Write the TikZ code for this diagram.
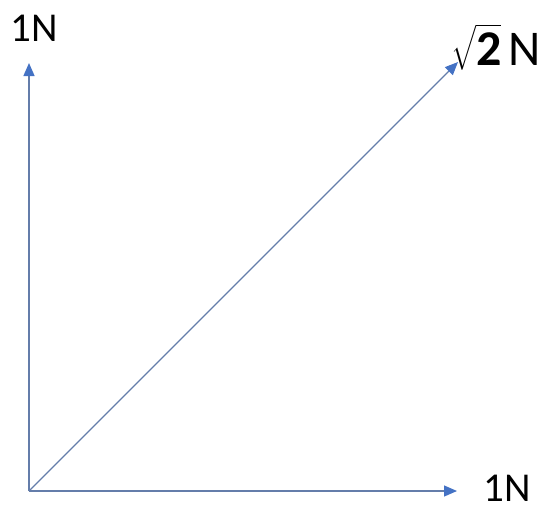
\documentclass[tikz,border=0pt]{standalone}
\usepackage{exscale}
\usepackage{fontspec}
\setmainfont{Carlito}
\usetikzlibrary{arrows.meta}
\definecolor{vecblue}{RGB}{68,114,196}
\definecolor{vecline}{RGB}{100,125,170}
\tikzset{
  vec/.style={draw=vecline, line width=1.3pt, -{Triangle[length=13pt,width=11pt,color=vecblue]}},
  lbl/.style={font=\fontsize{41}{44}\selectfont, inner sep=0pt}
}
\begin{document}
\begin{tikzpicture}[x=1pt,y=-1pt]
\useasboundingbox (0,0) rectangle (539,509);
\coordinate (O) at (29,491);
\coordinate (V) at (29,63);
\coordinate (H) at (457,491);
\coordinate (D) at (458,62);
\node[lbl] (lv) at (34,28) {1N};
\node[lbl] (lh) at (507,488) {1N};
\node[lbl, anchor=west, font=\fontsize{50}{54}\selectfont] (ld) at (451,47) {$\sqrt{\mathbf{2}}$\hspace{7pt}N};
\draw[vec] (O) -- (V);
\draw[vec] (O) -- (H);
\draw[vec] (O) -- (D);
\end{tikzpicture}
\end{document}
